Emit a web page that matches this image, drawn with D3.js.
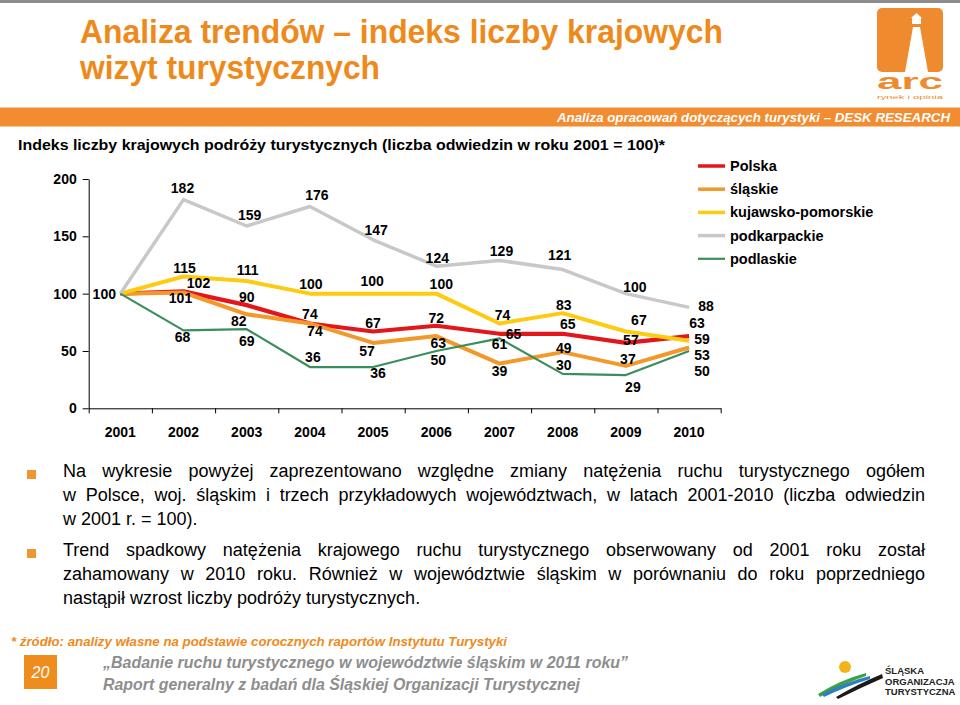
<!DOCTYPE html>
<html><head><meta charset="utf-8">
<script src="https://cdn.jsdelivr.net/npm/d3@7"></script>
<style>
html,body{margin:0;padding:0;background:#fff;}
svg{display:block;font-family:"Liberation Sans",Arial,sans-serif;}
</style></head><body>
<svg id="c" width="960" height="705"></svg>
<script>
// ---------- DATA ----------
const years = ["2001","2002","2003","2004","2005","2006","2007","2008","2009","2010"];
const seriesNames = ["Polska","śląskie","kujawsko-pomorskie","podkarpackie","podlaskie"];
const polska       = [100,102, 90, 74, 67, 72, 65, 65, 57, 63];
const slaskie      = [100,101, 82, 74, 57, 63, 39, 49, 37, 53];
const kujawsko     = [100,115,111,100,100,100, 74, 83, 67, 59];
const podkarpackie = [100,182,159,176,147,124,129,121,100, 88];
const podlaskie    = [100, 68, 69, 36, 36, 50, 61, 30, 29, 50];
const yTicks = [0,50,100,150,200];

// ---------- STYLE / LAYOUT ----------
const colors = ["#e3171b","#f3982a","#fccb12","#c8c8c8","#3b8e5c"];
const widths = [4.2,4,4,3.5,2.2];
// label nudges (px, relative to the point) – layout only
const nudges = [
  [[-16,0],[15,-8],[0,-8],[0,-9],[0,-8],[0,-8],[14,0],[5,-10],[5,-3],[8,-13]],
  [null,[-3,6],[-8,7],[5,8],[-6,8],[2,7],[0,8],[1,-4],[2,-7],[13,7.5]],
  [null,[1,-8],[1,-11],[1,-10],[-1,-13],[5,-10],[3,-8],[1,-8],[13,-11],[13,-1.7]],
  [null,[-1,-12],[3,-11],[7,-11],[3,-10],[1,-8],[2,-9],[-3,-14],[9,-7],[17,-1]],
  [null,[-1,7],[0,12],[3,-10],[5,6],[2,9],[0,6],[1,-9],[7,12],[13,20]]
];

const svg = d3.select("#c");
const ORANGE = "#ee8a1c";

// ---------- HEADER ----------
svg.append("rect").attr("x",0).attr("y",0).attr("width",960).attr("height",3).attr("fill","#8c8c8c");
svg.append("text").attr("x",80).attr("y",43).attr("font-size",33).attr("font-weight","bold")
  .attr("fill",ORANGE).attr("textLength",643).attr("lengthAdjust","spacingAndGlyphs")
  .text("Analiza trendów – indeks liczby krajowych");
svg.append("text").attr("x",80).attr("y",79).attr("font-size",33).attr("font-weight","bold")
  .attr("fill",ORANGE).attr("textLength",300).attr("lengthAdjust","spacingAndGlyphs")
  .text("wizyt turystycznych");
svg.append("rect").attr("x",0).attr("y",107.5).attr("width",960).attr("height",19).attr("fill","#f28c30");
svg.append("text").attr("x",950).attr("y",121.5).attr("text-anchor","end").attr("font-size",13)
  .attr("font-weight","bold").attr("font-style","italic").attr("fill","#fff")
  .attr("textLength",393).attr("lengthAdjust","spacingAndGlyphs")
  .text("Analiza opracowań dotyczących turystyki – DESK RESEARCH");

// ARC logo
const arc = svg.append("g");
arc.append("rect").attr("x",877).attr("y",8).attr("width",66).attr("height",64).attr("rx",5).attr("fill","#f08a2e");
arc.append("polygon").attr("points","913,27 920,27 928,72 905,72").attr("fill","#fff");
arc.append("rect").attr("x",912).attr("y",18).attr("width",9).attr("height",6).attr("fill","#fff");
arc.append("polygon").attr("points","911,18 916.5,13 922,18").attr("fill","#fff");
arc.append("text").attr("x",877).attr("y",89).attr("font-size",22).attr("font-weight","bold")
  .attr("fill","#f08a2e").attr("textLength",66).attr("lengthAdjust","spacingAndGlyphs").text("arc");
arc.append("text").attr("x",877).attr("y",98.5).attr("font-size",5.5).attr("fill","#f08a2e")
  .attr("textLength",66).attr("lengthAdjust","spacingAndGlyphs").text("rynek i opinia");

// subtitle
svg.append("text").attr("x",18).attr("y",150).attr("font-size",15).attr("font-weight","bold")
  .attr("fill","#000").attr("textLength",647).attr("lengthAdjust","spacingAndGlyphs")
  .text("Indeks liczby krajowych podróży turystycznych (liczba odwiedzin w roku 2001 = 100)*");

// ---------- CHART ----------
const x = d3.scaleLinear().domain([0, years.length]).range([88.7, 720.7]);
const y = d3.scaleLinear().domain([0, 200]).range([408.3, 179]);
const cx = i => x(i + 0.5);

const yAxis = svg.append("g").attr("transform","translate(88.7,0)")
  .call(d3.axisLeft(y).tickValues(yTicks).tickSize(6).tickSizeOuter(0).tickPadding(6));
yAxis.selectAll("text").attr("font-size",14).attr("font-weight","bold").attr("fill","#000")
  .attr("font-family","Liberation Sans, Arial, sans-serif");
yAxis.selectAll("path,line").attr("stroke","#000");

const xAxis = svg.append("g").attr("transform","translate(0,408.3)")
  .call(d3.axisBottom(x).tickValues(d3.range(years.length+1)).tickSize(5).tickSizeOuter(0).tickFormat(""));
xAxis.selectAll("path,line").attr("stroke","#000");
svg.append("g").selectAll("text").data(years).join("text")
  .attr("x",(d,i)=>cx(i)).attr("y",437).attr("text-anchor","middle")
  .attr("font-size",14).attr("font-weight","bold").attr("fill","#000").text(d=>d);

const allSeries = [polska, slaskie, kujawsko, podkarpackie, podlaskie];
const line = d3.line().x((d,i)=>cx(i)).y(d=>y(d));
svg.append("g").selectAll("path").data(allSeries).join("path")
  .attr("d", d=>line(d)).attr("fill","none")
  .attr("stroke",(d,k)=>colors[k]).attr("stroke-width",(d,k)=>widths[k])
  .attr("stroke-linejoin","round").attr("stroke-linecap","butt");

// data labels
const lbl = svg.append("g").attr("font-size",14).attr("font-weight","bold").attr("fill","#000");
allSeries.forEach((s,k)=>{
  s.forEach((v,i)=>{
    const n = nudges[k][i];
    if(!n) return;
    lbl.append("text").attr("x",cx(i)+n[0]).attr("y",y(v)+n[1]).attr("dy","0.35em")
      .attr("text-anchor","middle").text(v);
  });
});

// legend
const leg = svg.append("g");
seriesNames.forEach((name,k)=>{
  const yy = 166 + k*23.2;
  leg.append("line").attr("x1",698).attr("x2",725).attr("y1",yy).attr("y2",yy)
    .attr("stroke",colors[k]).attr("stroke-width",Math.min(widths[k],3.5));
  leg.append("text").attr("x",730).attr("y",yy).attr("dy","0.35em").attr("font-size",14.5)
    .attr("font-weight","bold").attr("fill","#000").text(name);
});

// ---------- BULLETS ----------
const paras = [
  {y:[477,501,525], lines:[
    "Na wykresie powyżej zaprezentowano względne zmiany natężenia ruchu turystycznego ogółem",
    "w Polsce, woj. śląskim i trzech przykładowych województwach, w latach 2001-2010 (liczba odwiedzin",
    "w 2001 r. = 100)."]},
  {y:[556,580,604], lines:[
    "Trend spadkowy natężenia krajowego ruchu turystycznego obserwowany od 2001 roku został",
    "zahamowany w 2010 roku. Również w województwie śląskim w porównaniu do roku poprzedniego",
    "nastąpił wzrost liczby podróży turystycznych."]}
];
const tx0 = 63, tx1 = 925;
const tmp = svg.append("text").attr("font-size",18).attr("visibility","hidden");
function wlen(w){ tmp.text(w); return tmp.node().getComputedTextLength(); }
paras.forEach(p=>{
  svg.append("rect").attr("x",27).attr("y",p.y[0]-7).attr("width",9).attr("height",9).attr("fill","#f0962e");
  p.lines.forEach((ln,li)=>{
    const t = svg.append("text").attr("font-size",18).attr("fill","#000").attr("y",p.y[li]);
    if(li === p.lines.length-1){ t.attr("x",tx0).text(ln); return; }
    const words = ln.split(" ");
    const ws = words.map(wlen);
    const gap = (tx1 - tx0 - d3.sum(ws)) / (words.length-1);
    let xx = tx0;
    words.forEach((w,wi)=>{ t.append("tspan").attr("x",xx).text(w); xx += ws[wi] + gap; });
  });
});
tmp.remove();

// ---------- FOOTER ----------
svg.append("text").attr("x",11).attr("y",646).attr("font-size",13).attr("font-weight","bold")
  .attr("font-style","italic").attr("fill",ORANGE).attr("textLength",496).attr("lengthAdjust","spacingAndGlyphs")
  .text("* źródło: analizy własne na podstawie corocznych raportów Instytutu Turystyki");
svg.append("rect").attr("x",24).attr("y",655).attr("width",33).attr("height",34).attr("fill","#ef8c1e");
svg.append("text").attr("x",40.5).attr("y",678).attr("text-anchor","middle").attr("font-size",16)
  .attr("font-style","italic").attr("fill","#fff").text("20");
svg.append("text").attr("x",103).attr("y",668).attr("font-size",17).attr("font-weight","bold")
  .attr("font-style","italic").attr("fill","#8e8e8e").attr("textLength",525).attr("lengthAdjust","spacingAndGlyphs")
  .text("„Badanie ruchu turystycznego w województwie śląskim w 2011 roku”");
svg.append("text").attr("x",103).attr("y",690).attr("font-size",17).attr("font-weight","bold")
  .attr("font-style","italic").attr("fill","#8e8e8e").attr("textLength",477).attr("lengthAdjust","spacingAndGlyphs")
  .text("Raport generalny z badań dla Śląskiej Organizacji Turystycznej");

// ŚOT logo
const sot = svg.append("g");
sot.append("circle").attr("cx",845).attr("cy",667).attr("r",6).attr("fill","#f5b31b");
sot.append("path").attr("d","M818,694 Q840,680 866,673 L866,676 Q842,684 820,697 Z").attr("fill","#3aa346");
sot.append("path").attr("d","M822,694 Q845,682 870,676 L870,679 Q847,686 824,697 Z").attr("fill","#2f7fc0");
sot.append("path").attr("d","M836,697 Q858,684 882,674 L883,678 Q860,688 838,699 Z").attr("fill","#1a1a1a");
["ŚLĄSKA","ORGANIZACJA","TURYSTYCZNA"].forEach((t,i)=>{
  sot.append("text").attr("x",885).attr("y",674+i*10.5).attr("font-size",9.5).attr("font-weight","bold")
    .attr("fill","#222").text(t);
});
</script>
</body></html>
